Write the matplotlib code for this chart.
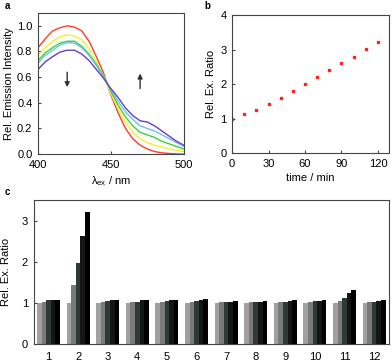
import numpy as np
import matplotlib
matplotlib.use("Agg")
import matplotlib.pyplot as plt

plt.rcParams['font.family'] = ['Liberation Sans', 'DejaVu Sans']
plt.rcParams['font.size'] = 8
plt.rcParams['mathtext.fontset'] = 'custom'
plt.rcParams['mathtext.rm'] = 'Liberation Sans'

# panel a: emission spectra
wl = [400, 405, 410, 415, 420, 425, 430, 435, 440, 445, 450, 455, 460, 465, 470, 475, 480, 485, 490, 495, 500]
red = [0.83, 0.90, 0.96, 0.985, 1.00, 0.99, 0.96, 0.88, 0.76, 0.63, 0.46, 0.32, 0.20, 0.12, 0.07, 0.04, 0.02, 0.01, 0.005, 0.002, 0.0]
yellow = [0.77, 0.83, 0.88, 0.915, 0.93, 0.92, 0.89, 0.82, 0.72, 0.61, 0.47, 0.35, 0.25, 0.17, 0.12, 0.09, 0.07, 0.055, 0.04, 0.03, 0.02]
green = [0.73, 0.79, 0.83, 0.865, 0.88, 0.88, 0.84, 0.78, 0.70, 0.61, 0.49, 0.38, 0.29, 0.22, 0.17, 0.15, 0.13, 0.10, 0.08, 0.06, 0.04]
cyan = [0.71, 0.77, 0.81, 0.85, 0.87, 0.865, 0.83, 0.77, 0.69, 0.60, 0.50, 0.41, 0.33, 0.27, 0.22, 0.20, 0.18, 0.15, 0.12, 0.09, 0.06]
purple = [0.66, 0.72, 0.76, 0.795, 0.81, 0.81, 0.78, 0.73, 0.66, 0.59, 0.51, 0.44, 0.36, 0.30, 0.26, 0.25, 0.22, 0.18, 0.14, 0.10, 0.07]
spectra = [red, yellow, green, cyan, purple]
spec_colors = ['#ff3b30', '#f2f22a', '#3ad23a', '#6ec0f0', '#6a3cc8']

# panel b: ratio vs time
time = [0, 10, 20, 30, 40, 50, 60, 70, 80, 90, 100, 110, 120]
ratio = [1.0, 1.12, 1.25, 1.42, 1.6, 1.8, 2.0, 2.2, 2.4, 2.6, 2.8, 3.02, 3.23]

# panel c: ratios for 12 samples, 5 time points
samples = ['1', '2', '3', '4', '5', '6', '7', '8', '9', '10', '11', '12']
bar_vals = [
    [1.0, 1.03, 1.06, 1.06, 1.08],
    [1.0, 1.43, 1.98, 2.62, 3.22],
    [1.0, 1.02, 1.04, 1.06, 1.08],
    [1.0, 1.02, 1.03, 1.06, 1.06],
    [1.0, 1.02, 1.04, 1.06, 1.08],
    [1.0, 1.01, 1.05, 1.06, 1.09],
    [1.0, 1.01, 1.02, 1.02, 1.05],
    [1.0, 1.01, 1.02, 1.03, 1.05],
    [1.0, 1.02, 1.03, 1.04, 1.08],
    [1.0, 1.02, 1.05, 1.05, 1.06],
    [1.0, 1.05, 1.13, 1.23, 1.32],
    [1.0, 1.01, 1.03, 1.05, 1.06],
]
bar_colors = ['#a0a0a0', '#7a7a7a', '#2e3a38', '#151515', '#000000']

fig = plt.figure(figsize=(3.92, 3.61), dpi=100)
spine_col = '#454545'

def style(ax):
    for s in ax.spines.values():
        s.set_color(spine_col)
    ax.tick_params(direction='in', length=2, color=spine_col, pad=4)

# a
axa = fig.add_axes([0.097, 0.573, 0.372, 0.391])
for y, c in zip(spectra, spec_colors):
    axa.plot(wl, y, color=c, lw=1.0)
axa.set_xlim(400, 500)
axa.set_ylim(0, 1.1)
axa.set_xticks([400, 450, 500])
axa.set_yticks(np.arange(0, 1.01, 0.2))
axa.set_yticklabels(['0.0', '0.2', '0.4', '0.6', '0.8', '1.0'])
axa.set_xlabel(r'$\mathregular{\lambda_{ex}}$ / nm', labelpad=3)
axa.set_ylabel('Rel. Emission Intensity', labelpad=2)
axa.annotate('', xy=(420, 0.5), xytext=(420, 0.66),
             arrowprops=dict(arrowstyle='-|>', color='#333333', lw=1, mutation_scale=7))
axa.annotate('', xy=(470, 0.65), xytext=(470, 0.49),
             arrowprops=dict(arrowstyle='-|>', color='#333333', lw=1, mutation_scale=7))
style(axa)

# b
axb = fig.add_axes([0.592, 0.576, 0.40, 0.382])
axb.plot(time, ratio, linestyle='none', marker='s', ms=1.8, color='#ff2020')
axb.set_xlim(0, 129)
axb.set_ylim(0, 4)
axb.set_xticks([0, 30, 60, 90, 120])
axb.set_yticks([0, 1, 2, 3, 4])
axb.set_xlabel('time / min', labelpad=3)
axb.set_ylabel('Rel. Ex. Ratio', labelpad=3)
style(axb)

# c
axc = fig.add_axes([0.086, 0.047, 0.906, 0.399])
x = np.arange(1, len(samples) + 1)
w = 0.156
for i in range(5):
    vals = [g[i] for g in bar_vals]
    axc.bar(x + (i - 2) * w, vals, width=w, color=bar_colors[i], edgecolor='none')
axc.set_xlim(0.5, 12.5)
axc.set_ylim(0, 3.5)
axc.set_xticks(x)
axc.set_xticklabels(samples)
axc.set_yticks([0, 1, 2, 3])
axc.set_ylabel('Rel. Ex. Ratio', labelpad=8)
style(axc)
axc.tick_params(axis='x', length=0, pad=6)

fig.text(0.012, 0.983, 'a', fontweight='bold', fontsize=7, va='center')
fig.text(0.522, 0.983, 'b', fontweight='bold', fontsize=7, va='center')
fig.text(0.012, 0.468, 'c', fontweight='bold', fontsize=7, va='center')

fig.savefig('out.png', dpi=100)
